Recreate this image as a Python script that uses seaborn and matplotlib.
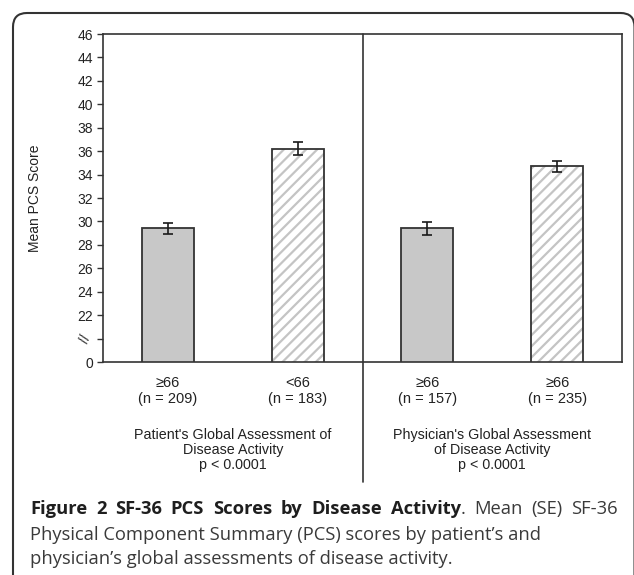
import matplotlib
matplotlib.use("Agg")
import matplotlib.pyplot as plt
import seaborn as sns
import pandas as pd
import numpy as np
from matplotlib.patches import FancyBboxPatch, Rectangle
from matplotlib.transforms import IdentityTransform, blended_transform_factory

# ---------------- data ----------------
categories = ["≥66\n(n = 209)", "<66\n(n = 183)", "≥66\n(n = 157)", "≥66\n(n = 235)"]
fill_style = ["solid", "hatched", "solid", "hatched"]
means = [29.4, 36.2, 29.4, 34.7]
se = [0.45, 0.55, 0.55, 0.50]
ytick_values = [18, 20, 22, 24, 26, 28, 30, 32, 34, 36, 38, 40, 42, 44, 46]
ytick_labels = ["0", "//", "22", "24", "26", "28", "30", "32", "34", "36",
                "38", "40", "42", "44", "46"]
group_labels = ["Patient's Global Assessment of\nDisease Activity\np < 0.0001",
                "Physician's Global Assessment\nof Disease Activity\np < 0.0001"]
group_centers = [0.5, 2.5]
divider_pos = 1.5
# first caption line: (text, bold) word units, justified across the width
caption_first = [("Figure", True), ("2", True), ("SF-36", True), ("PCS", True),
                 ("Scores", True), ("by", True), ("Disease", True),
                 ("Activity|.", None), ("Mean", False), ("(SE)", False), ("SF-36", False)]
caption_lines = ["Physical Component Summary (PCS) scores by patient\u2019s and",
                 "physician\u2019s global assessments of disease activity."]

df = pd.DataFrame({"label": categories, "mean": means, "fill": fill_style})

# ---------------- style ----------------
sns.set_style("white")
plt.rcParams["font.family"] = ["Liberation Sans", "DejaVu Sans"]
plt.rcParams["hatch.linewidth"] = 1.6

W, H = 634, 575
fig = plt.figure(figsize=(W / 100, H / 100), dpi=100)
ax = fig.add_axes([103 / W, 1 - 362 / H, (622 - 103) / W, (362 - 34) / H])

dark = "#333333"
solid_col = "#c8c8c8"
hatch_col = "#c4c4c4"

sns.barplot(data=df, x="label", y="mean", hue="fill", order=categories,
            palette={"solid": solid_col, "hatched": "white"}, dodge=False,
            width=0.4, edgecolor=dark, linewidth=1.3, legend=False, ax=ax,
            errorbar=None)

for p in list(ax.patches):
    xc = p.get_x() + p.get_width() / 2
    idx = int(round(xc))
    if 0 <= idx < len(categories) and fill_style[idx] == "hatched":
        p.set_hatch("///")
        p.set_edgecolor(hatch_col)
        p.set_linewidth(0)
        outline = Rectangle(p.get_xy(), p.get_width(), p.get_height(),
                            fill=False, edgecolor=dark, linewidth=1.3, zorder=p.get_zorder() + 0.1)
        ax.add_patch(outline)

xpos = np.arange(len(categories))
ax.errorbar(xpos, means, yerr=se, fmt="none", ecolor="#1a1a1a",
            elinewidth=1.2, capsize=3.5, capthick=1.2, zorder=5)

ax.set_xlim(-0.5, len(categories) - 0.5)
ax.set_ylim(18, 46)
ax.set_yticks(ytick_values)
ax.set_yticklabels(ytick_labels, fontsize=10, color="#222222")
ax.get_yticklabels()[1].set_rotation(70)
ax.set_xlabel("")
ax.set_ylabel("Mean PCS Score", fontsize=10, color="#222222")
ax.yaxis.set_label_coords((42 - 103) / 519, 0.5)
ax.tick_params(axis="y", left=True, length=4, width=1, color=dark, pad=3)
ax.tick_params(axis="x", bottom=False, length=0, pad=10, labelsize=10.5, labelcolor="#222222")
for s in ax.spines.values():
    s.set_visible(True)
    s.set_color(dark)
    s.set_linewidth(1.2)

trans = blended_transform_factory(ax.transData, ax.transAxes)
for gx, gl in zip(group_centers, group_labels):
    ax.text(gx, (362 - 428) / 328, gl, transform=trans, ha="center", va="top",
            fontsize=10.3, linespacing=1.1, color="#222222")
ax.axvline(divider_pos, ymin=(362 - 482) / 328, ymax=1, clip_on=False,
           color=dark, linewidth=1.2)

# outer rounded frame
frame = FancyBboxPatch((13, -40), 621.5, H - 13 + 40, boxstyle="round,pad=0,rounding_size=14",
                       transform=IdentityTransform(), fill=False, edgecolor=dark, linewidth=1.5)
fig.add_artist(frame)

# caption
cap_font = ["Open Sans", "DejaVu Sans"]
cs = 13.2
bold_col = "#1e1e1e"
reg_col = "#3a3a3a"
x_left, x_right = 30, 618
renderer = fig.canvas.get_renderer()


def make_unit(x, y, spec, bold):
    arts = []
    if bold is None:
        a, b = spec.split("|")
        t = fig.text(x / W, y, a, family=cap_font, fontweight="bold", fontsize=cs,
                     color=bold_col, va="baseline", ha="left")
        arts.append(t)
        w = t.get_window_extent(renderer=renderer).width
        t2 = fig.text((x + w) / W, y, b, family=cap_font, fontsize=cs,
                      color=reg_col, va="baseline", ha="left")
        arts.append(t2)
    else:
        t = fig.text(x / W, y, spec, family=cap_font, fontweight="bold" if bold else "normal",
                     fontsize=cs, color=bold_col if bold else reg_col, va="baseline", ha="left")
        arts.append(t)
    return arts


def unit_width(arts):
    bbs = [a.get_window_extent(renderer=renderer) for a in arts]
    return max(b.x1 for b in bbs) - min(b.x0 for b in bbs)


y1 = 1 - 514 / H
units = [make_unit(0, y1, s, b) for s, b in caption_first]
widths = [unit_width(u) for u in units]
gap = (x_right - x_left - sum(widths)) / (len(units) - 1)
x = x_left
for u, w in zip(units, widths):
    base = u[0].get_position()[0] * W
    for a in u:
        px, py = a.get_position()
        a.set_position(((px * W - base + x) / W, py))
    x += w + gap

for i, line in enumerate(caption_lines):
    fig.text(x_left / W, 1 - (540 + 24.5 * i) / H, line, family=cap_font, fontsize=cs,
             color=reg_col, va="baseline", ha="left")

fig.savefig("out.png", dpi=100)
